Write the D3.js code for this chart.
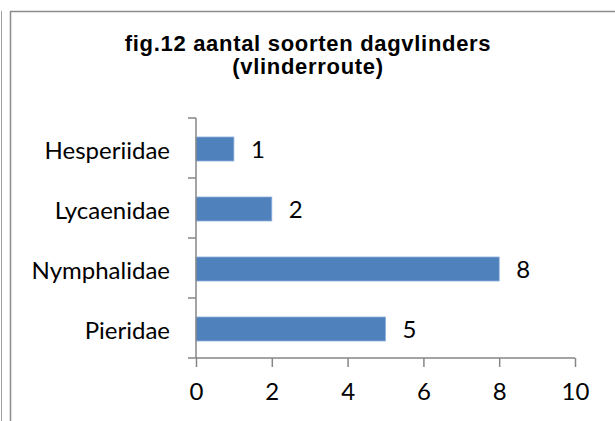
<!DOCTYPE html>
<html>
<head>
<meta charset="utf-8">
<script src="https://cdn.jsdelivr.net/npm/d3@7"></script>
<style>
  body { margin: 0; background: #fff; }
  svg { display: block; }
</style>
</head>
<body>
<div id="grafiek"></div>
<script>
// data
var families = ["Hesperiidae", "Lycaenidae", "Nymphalidae", "Pieridae"]
var soorten = [1, 2, 8, 5]
var xTicks = [0, 2, 4, 6, 8, 10]
var titel = ["fig.12 aantal soorten dagvlinders", "(vlinderroute)"]

var width = 615
var height = 421
var asKleur = "#868686"

var svg = d3.select("#grafiek")
    .append("svg")
    .attr("width", width)
    .attr("height", height)

// rand van de grafiek
svg.append("line")
    .attr("x1", 1.5).attr("x2", 1.5)
    .attr("y1", 11).attr("y2", height)
    .attr("stroke", "#a0a0a0")
svg.append("path")
    .attr("d", "M10.5," + height + "V11.5H" + width)
    .attr("fill", "none")
    .attr("stroke", "#8c8c8c")
    .attr("stroke-width", 1.5)

// titel
svg.append("g")
    .selectAll("text")
    .data(titel)
    .join("text")
    .attr("x", 308)
    .attr("y", (d, i) => 51 + i * 23)
    .attr("text-anchor", "middle")
    .attr("font-family", "'Liberation Sans', Arial, sans-serif")
    .attr("font-weight", "bold")
    .attr("font-size", "22px")
    .attr("letter-spacing", "0.7px")
    .text(d => d)

var x = d3.scaleLinear()
    .domain([0, 10])
    .range([196, 575])

var y = d3.scaleBand()
    .domain(families)
    .range([118, 358])
    .paddingInner(0.6)
    .paddingOuter(0.3)

var fontAs = "Lato, 'Open Sans', sans-serif"
var maatAs = "24px"

// balken
svg.append("g")
    .selectAll("rect")
    .data(families)
    .join("rect")
    .attr("x", x(0))
    .attr("y", d => y(d) + 1)
    .attr("width", (d, i) => x(soorten[i]) - x(0))
    .attr("height", y.bandwidth())
    .attr("fill", "#4f81bd")
    .attr("stroke", "#8cb0dc")
    .attr("stroke-width", 0.8)

// waarden
svg.append("g")
    .selectAll("text")
    .data(families)
    .join("text")
    .attr("x", (d, i) => x(soorten[i]) + 17)
    .attr("y", d => y(d) + y.bandwidth() / 2 + 2)
    .attr("dy", "0.35em")
    .attr("font-family", fontAs)
    .attr("font-size", maatAs)
    .text((d, i) => soorten[i])

// y-as
var yAs = svg.append("g")
    .attr("transform", "translate(" + x(0) + ",0)")
    .call(d3.axisLeft(y).tickSize(0).tickPadding(26))
yAs.select(".domain").remove()
yAs.selectAll("text")
    .attr("font-family", fontAs)
    .attr("font-size", maatAs)
    .attr("fill", "#000")
    .attr("dy", "0.45em")

var grenzen = families.map(d => y(d) - y.step() * y.paddingInner() / 2)
grenzen.push(y.range()[1])
svg.append("g")
    .selectAll("line")
    .data(grenzen)
    .join("line")
    .attr("x1", x(0) - 8)
    .attr("x2", x(0))
    .attr("y1", d => d)
    .attr("y2", d => d)
    .attr("stroke", asKleur)
    .attr("stroke-width", 1.5)
svg.append("line")
    .attr("x1", x(0)).attr("x2", x(0))
    .attr("y1", y.range()[0]).attr("y2", y.range()[1])
    .attr("stroke", asKleur)
    .attr("stroke-width", 1.5)

// x-as
var xAs = svg.append("g")
    .attr("transform", "translate(0," + y.range()[1] + ")")
    .call(d3.axisBottom(x).tickValues(xTicks).tickSize(9).tickSizeOuter(9).tickPadding(16))
xAs.select(".domain")
    .attr("stroke", asKleur)
    .attr("stroke-width", 1.5)
    .attr("d", "M" + x(0) + ",0H" + x(10))
xAs.selectAll(".tick line")
    .attr("stroke", asKleur)
    .attr("stroke-width", 1.5)
xAs.selectAll("text")
    .attr("font-family", fontAs)
    .attr("font-size", maatAs)
    .attr("fill", "#000")
</script>
</body>
</html>
